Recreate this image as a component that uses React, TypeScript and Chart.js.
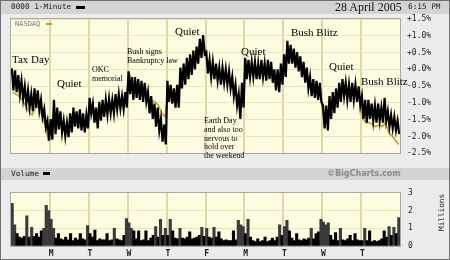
import React, { useEffect, useRef } from "react";
import { Chart, registerables } from "chart.js";
Chart.register(...registerables);

// 10 trading days, 12 bins per day (percent change)
const days = ["F", "M", "T", "W", "T", "F", "M", "T", "W", "T"];

const stockHigh = [
  0.03, -0.03, -0.17, -0.34, -0.51, -0.63, -0.74, -0.57, -0.63, -0.91, -1.19, -1.53,
  -1.48, -0.91, -1.14, -1.25, -1.53, -1.59, -1.31, -1.14, -1.25, -1.19, -1.31, -1.36,
  -0.85, -1.02, -1.14, -0.97, -0.91, -0.91, -0.88, -0.91, -0.74, -0.74, -0.8, -0.68,
  -0.06, -0.23, -0.23, -0.29, -0.34, -0.4, -0.68, -0.8, -1.02, -1.14, -1.48, -1.65,
  -0.34, -0.46, -0.57, -0.46, 0.05, 0.17, 0.34, 0.45, 0.56, 0.68, 0.91, 1.02,
  0.51, 0.28, 0.22, 0.17, 0.05, 0.05, 0.0, -0.06, -0.23, -0.46, -0.74, -0.4,
  0.34, 0.28, 0.22, 0.22, 0.17, 0.28, 0.17, 0.28, 0.22, 0.0, 0.0, 0.17,
  0.45, 0.85, 0.73, 0.62, 0.51, 0.39, 0.22, 0.05, -0.23, -0.29, -0.34, -0.4,
  -1.08, -1.08, -0.8, -0.68, -0.57, -0.4, -0.29, -0.4, -0.46, -0.4, -0.46, -0.51,
  -0.8, -0.91, -0.91, -1.02, -1.08, -1.02, -1.14, -0.85, -1.25, -1.36, -1.42, -1.53,
];

const stockLow = [
  -0.63, -0.68, -0.74, -0.88, -1.02, -1.14, -1.25, -1.14, -1.22, -1.42, -1.73, -2.13,
  -2.1, -1.93, -1.79, -1.88, -1.99, -2.02, -1.88, -1.71, -1.76, -1.82, -1.88, -1.76,
  -1.31, -1.59, -1.76, -1.53, -1.42, -1.36, -1.31, -1.31, -1.19, -1.17, -1.19, -1.14,
  -0.74, -0.91, -0.85, -0.91, -0.97, -0.97, -1.31, -1.48, -1.71, -1.82, -2.16, -2.24,
  -0.97, -1.02, -1.14, -1.14, -0.57, -0.46, -0.29, -0.17, 0.0, 0.17, 0.34, 0.45,
  -0.12, -0.23, -0.29, -0.34, -0.46, -0.4, -0.46, -0.57, -0.8, -1.08, -1.48, -1.14,
  -0.29, -0.23, -0.23, -0.29, -0.29, -0.23, -0.34, -0.29, -0.4, -0.63, -0.68, -0.46,
  -0.23, 0.17, 0.17, 0.05, -0.06, -0.23, -0.4, -0.57, -0.8, -0.85, -0.91, -0.97,
  -1.76, -1.82, -1.48, -1.31, -1.14, -0.97, -0.8, -0.91, -0.97, -0.91, -0.97, -1.08,
  -1.48, -1.59, -1.48, -1.53, -1.59, -1.53, -1.59, -1.53, -1.71, -1.76, -1.82, -1.93,
];

const nasdaq = [
  -0.68, -0.74, -0.8, -0.91, -1.08, -1.25, -1.36, -1.14, -1.14, -1.36, -1.65, -2.1,
  -1.93, -1.59, -1.53, -1.59, -1.76, -1.82, -1.65, -1.48, -1.53, -1.53, -1.59, -1.53,
  -1.14, -1.31, -1.48, -1.25, -1.19, -1.14, -1.08, -1.08, -0.97, -0.91, -0.91, -0.8,
  -0.12, -0.34, -0.4, -0.46, -0.46, -0.57, -0.85, -0.94, -0.97, -1.08, -1.31, -1.42,
  -0.68, -0.74, -0.8, -0.74, -0.23, -0.12, 0.05, 0.17, 0.28, 0.45, 0.62, 0.73,
  0.22, 0.05, 0.0, -0.06, -0.12, -0.12, -0.17, -0.29, -0.51, -0.74, -1.02, -0.74,
  0.05, 0.05, 0.0, 0.0, -0.06, 0.05, -0.06, 0.0, -0.12, -0.34, -0.34, -0.17,
  0.05, 0.45, 0.39, 0.28, 0.17, 0.05, -0.12, -0.29, -0.57, -0.63, -0.68, -0.74,
  -1.53, -1.59, -1.31, -1.08, -0.91, -0.74, -0.63, -0.68, -0.74, -0.74, -0.74, -0.85,
  -1.48, -1.59, -1.59, -1.65, -1.71, -1.65, -1.71, -1.59, -1.88, -1.99, -2.1, -2.24,
];

// volume in millions, 16 bins per day
const volume = [
  2.4, 1.2, 0.7, 0.5, 0.45, 0.55, 1.7, 0.5, 1.05, 0.55, 0.7, 0.5, 0.85, 1.0, 2.3, 2.0,
  1.5, 1.0, 0.45, 0.7, 0.4, 0.35, 0.5, 0.35, 0.7, 0.3, 0.45, 0.35, 0.7, 0.4, 0.35, 1.15,
  0.7, 0.5, 0.9, 0.3, 0.4, 0.35, 0.35, 0.7, 0.3, 0.35, 1.0, 0.4, 0.35, 0.3, 0.6, 1.55,
  1.3, 1.0, 0.85, 0.4, 0.85, 0.3, 0.35, 0.85, 0.3, 0.45, 0.6, 1.1, 0.5, 1.5, 0.6, 1.0,
  0.6, 1.5, 0.85, 0.45, 0.4, 1.0, 0.45, 0.4, 0.5, 0.8, 0.4, 0.45, 0.5, 0.6, 1.05, 0.55,
  1.0, 0.5, 0.45, 1.05, 0.5, 0.8, 0.4, 0.3, 0.35, 0.3, 0.3, 0.85, 0.35, 1.45, 1.2, 1.1,
  0.7, 1.5, 0.5, 0.3, 0.25, 0.4, 0.25, 0.3, 0.5, 0.25, 0.3, 0.45, 0.3, 0.5, 1.2, 0.6,
  1.1, 1.45, 0.85, 0.45, 0.3, 0.7, 0.35, 0.3, 0.4, 0.35, 0.45, 1.0, 0.4, 0.7, 0.8, 1.5,
  1.35, 1.2, 1.3, 0.6, 0.35, 0.75, 0.3, 1.0, 0.35, 0.3, 0.4, 0.6, 0.3, 0.7, 0.35, 0.3,
  0.3, 1.0, 0.3, 0.85, 0.25, 0.3, 0.25, 0.3, 0.4, 0.85, 0.5, 1.1, 0.6, 1.05, 0.7, 1.6,
];

const PRICE_BINS = stockHigh.length;
const PRICE_BINS_PER_DAY = PRICE_BINS / days.length;
const VOL_BINS_PER_DAY = volume.length / days.length;

const PLOT_BG = "#fdfbe0";
const GRID_V = "#ddd8a3";
const GRID_H = "#e8e4bd";
const MONO = "'DejaVu Sans Mono', monospace";
const SERIF = "'Liberation Serif', 'Times New Roman', serif";

const plotFrame = {
  id: "plotFrame",
  beforeDraw(chart: any) {
    const { ctx, chartArea: a } = chart;
    ctx.save();
    ctx.fillStyle = PLOT_BG;
    ctx.fillRect(a.left, a.top, a.right - a.left, a.bottom - a.top);
    ctx.restore();
  },
  afterDraw(chart: any) {
    const { ctx, chartArea: a } = chart;
    ctx.save();
    ctx.strokeStyle = "#a9a9a9";
    ctx.lineWidth = 1;
    ctx.strokeRect(Math.round(a.left) - 0.5, Math.round(a.top) - 0.5, Math.round(a.right - a.left) + 1, Math.round(a.bottom - a.top) + 1);
    ctx.restore();
  },
};

export default function App() {
  const priceRef = useRef<HTMLCanvasElement>(null);
  const volRef = useRef<HTMLCanvasElement>(null);

  useEffect(() => {
    // each bin contributes its high then its low: the 1-minute trace swings between them
    const stockPoints: { x: number; y: number }[] = [];
    stockHigh.forEach((h, i) => {
      stockPoints.push({ x: i + 0.25, y: h });
      stockPoints.push({ x: i + 0.75, y: stockLow[i] });
    });
    const nasdaqPoints = nasdaq.map((v, i) => ({ x: i + 0.5, y: v }));

    const price = new Chart(priceRef.current!, {
      type: "line",
      data: {
        datasets: [
          {
            label: "NASDAQ",
            data: nasdaqPoints,
            borderColor: "#c9993a",
            borderWidth: 1.6,
            pointRadius: 0,
            tension: 0,
            order: 2,
          },
          {
            label: "0000",
            data: stockPoints,
            borderColor: "#000000",
            borderWidth: 2.2,
            pointRadius: 0,
            tension: 0,
            order: 1,
          },
        ],
      },
      options: {
        animation: false,
        responsive: false,
        maintainAspectRatio: false,
        layout: { padding: { left: 11, top: 19, bottom: 5, right: 0 } },
        plugins: { legend: { display: false }, tooltip: { enabled: false } },
        scales: {
          x: {
            type: "linear",
            min: 0,
            max: PRICE_BINS,
            grid: {
              drawTicks: false,
              lineWidth: 2,
              color: (c: any) =>
                c.tick && c.tick.value > 0 && c.tick.value < PRICE_BINS ? GRID_V : "rgba(0,0,0,0)",
            },
            ticks: { display: false, stepSize: PRICE_BINS_PER_DAY, autoSkip: false },
            border: { display: false },
            afterFit: (s: any) => {
              s.height = 0;
            },
          },
          y: {
            position: "right",
            min: -2.5,
            max: 1.5,
            grid: { color: GRID_H, lineWidth: 1, drawTicks: false },
            border: { display: false },
            ticks: {
              stepSize: 0.5,
              padding: 7,
              color: "#222",
              font: { family: MONO, size: 8 },
              callback: (v: any) => (Number(v) >= 0 ? "+" : "-") + Math.abs(Number(v)).toFixed(1) + "%",
            },
            afterFit: (s: any) => {
              s.width = 50;
            },
          },
        },
      },
      plugins: [plotFrame],
    });

    const volLabels = volume.map((_, i) => String(i));
    const vol = new Chart(volRef.current!, {
      type: "bar",
      data: {
        labels: volLabels,
        datasets: [
          {
            label: "Volume",
            data: volume,
            backgroundColor: (c: any) => (c.raw > 0.9 ? "#3a3a3a" : "#000000"),
            borderWidth: 0,
            barPercentage: 1,
            categoryPercentage: 1,
          },
        ],
      },
      options: {
        animation: false,
        responsive: false,
        maintainAspectRatio: false,
        layout: { padding: { left: 11, top: 5, bottom: 0, right: 0 } },
        plugins: { legend: { display: false }, tooltip: { enabled: false } },
        scales: {
          x: {
            type: "category",
            offset: true,
            grid: {
              offset: true,
              drawTicks: false,
              lineWidth: 2,
              color: (c: any) =>
                c.index % VOL_BINS_PER_DAY === 0 && c.index > 0 && c.index < volume.length ? GRID_V : "rgba(0,0,0,0)",
            },
            ticks: {
              autoSkip: false,
              maxRotation: 0,
              minRotation: 0,
              padding: 3,
              color: "#222",
              font: { family: MONO, size: 8, weight: "bold" },
              callback: (_v: any, i: number) => (i % VOL_BINS_PER_DAY === 0 && i > 0 ? days[i / VOL_BINS_PER_DAY] : ""),
            },
            border: { display: false },
            afterFit: (s: any) => {
              s.height = 14;
            },
          },
          y: {
            position: "right",
            min: 0,
            max: 3,
            grid: { color: GRID_H, lineWidth: 1, drawTicks: false },
            border: { display: false },
            ticks: {
              stepSize: 1,
              padding: 8,
              color: "#222",
              font: { family: MONO, size: 8 },
            },
            afterFit: (s: any) => {
              s.width = 50;
            },
          },
        },
      },
      plugins: [plotFrame],
    });

    return () => {
      price.destroy();
      vol.destroy();
    };
  }, []);

  const abs = (l: number, t: number, extra: React.CSSProperties = {}): React.CSSProperties => ({
    position: "absolute",
    left: l,
    top: t,
    whiteSpace: "nowrap",
    ...extra,
  });
  const big: React.CSSProperties = { fontFamily: SERIF, fontSize: 11, lineHeight: "12px", color: "#000" };
  const small: React.CSSProperties = { fontFamily: SERIF, fontSize: 8, lineHeight: "9px", color: "#000" };
  const mono: React.CSSProperties = { fontFamily: MONO, fontSize: 7.7, lineHeight: "10px", color: "#222" };

  return (
    <div style={{ position: "absolute", left: 0, top: 0, width: 450, height: 260, background: "#ececec", overflow: "hidden" }}>
      {/* header strips */}
      <div style={abs(0, 0, { width: 450, height: 14, background: "#d4d4d4" })} />
      <div style={abs(0, 168, { width: 450, height: 12, background: "#d4d4d4" })} />

      <canvas ref={priceRef} width={450} height={165} style={abs(0, 0, { width: 450, height: 165 })} />
      <canvas ref={volRef} width={450} height={80} style={abs(0, 180, { width: 450, height: 80 })} />

      {/* header texts */}
      <div style={abs(11, 2, mono)}>0000 1-Minute</div>
      <div style={abs(76, 6, { width: 9, height: 3, background: "#000" })} />
      <div style={abs(335, 0, { fontFamily: SERIF, fontSize: 12, lineHeight: "14px", color: "#111" })}>28 April 2005</div>
      <div style={abs(408, 2, mono)}>6:15 PM</div>

      <div style={abs(15, 19, { ...mono, fontSize: 7, color: "#7a7a7a" })}>NASDAQ</div>
      <div style={abs(46, 23, { width: 6, height: 2, background: "#c9993a" })} />

      <div style={abs(11, 169, mono)}>Volume</div>
      <div style={abs(43, 172, { width: 7, height: 3, background: "#000" })} />
      <div style={abs(327, 168, { fontFamily: "'DejaVu Sans', sans-serif", fontWeight: "bold", fontSize: 8, lineHeight: "12px", color: "#8c8c8c" })}>
        ©BigCharts.com
      </div>
      <div style={abs(424, 208, { ...mono, transform: "rotate(-90deg)", transformOrigin: "center center", width: 36, textAlign: "center" })}>
        Millions
      </div>

      {/* annotations */}
      <div style={abs(12, 53, big)}>Tax Day</div>
      <div style={abs(57, 77, big)}>Quiet</div>
      <div style={abs(92, 65, small)}>
        OKC<br />memorial
      </div>
      <div style={abs(127, 47, small)}>
        Bush signs<br />Bankruptcy law
      </div>
      <div style={abs(175, 25, big)}>Quiet</div>
      <div style={abs(204, 117, { ...small, lineHeight: "8.8px" })}>
        Earth Day<br />and also too<br />nervous to<br />hold over<br />the weekend
      </div>
      <div style={abs(241, 45, big)}>Quiet</div>
      <div style={abs(291, 26, big)}>Bush Blitz</div>
      <div style={abs(329, 60, big)}>Quiet</div>
      <div style={abs(361, 75, big)}>Bush Blitz</div>

      {/* outer frame */}
      <div style={abs(0, 0, { width: 450, height: 260, boxSizing: "border-box", border: "1px solid #6f6f6f" })} />
    </div>
  );
}
